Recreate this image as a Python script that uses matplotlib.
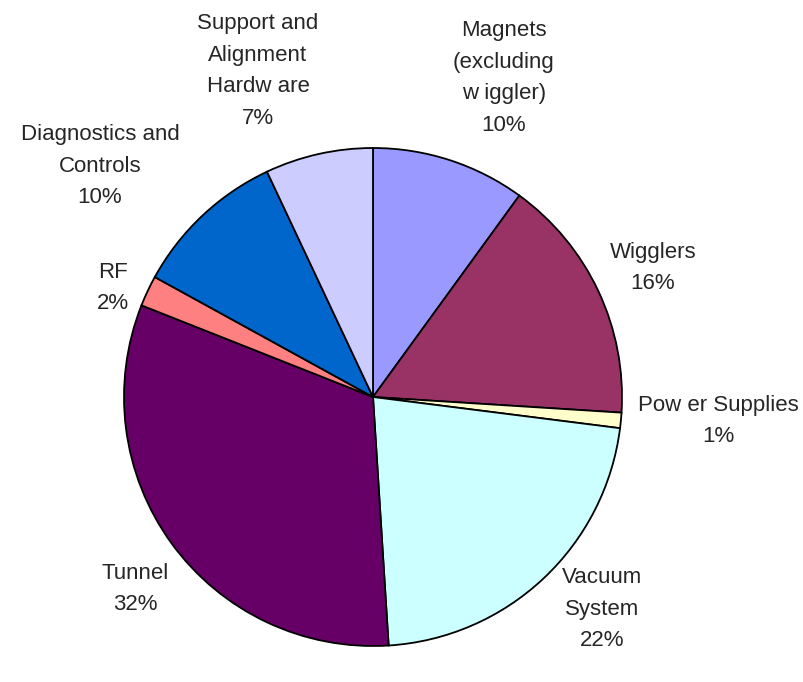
import matplotlib.pyplot as plt

# cost breakdown, clockwise from 12 o'clock
names = ['Magnets\n(excluding\nw iggler)', 'Wigglers', 'Pow er Supplies',
         'Vacuum\nSystem', 'Tunnel', 'RF', 'Diagnostics and\nControls',
         'Support and\nAlignment\nHardw are']
shares = [10, 16, 1, 22, 32, 2, 10, 7]
colors = ['#9999ff', '#993366', '#ffffcc', '#ccffff', '#660066',
          '#ff8080', '#0066cc', '#ccccff']

# label anchor points (figure pixels, y down)
label_xy = [(504, 78), (653, 268), (718, 421), (602, 609),
            (135, 589), (113, 288), (100, 166), (258, 71)]

plt.rcParams['font.family'] = ['Liberation Sans', 'DejaVu Sans']

W, H = 804, 682
fig = plt.figure(figsize=(W / 100, H / 100), dpi=100)
ax = fig.add_axes([0, 0, 1, 1])
ax.set_aspect('equal')
ax.axis('off')

ax.pie(shares, colors=colors, startangle=90, counterclock=False,
       center=(373, H - 397), radius=249,
       wedgeprops=dict(edgecolor='black', linewidth=1.3))
ax.set_xlim(0, W)
ax.set_ylim(0, H)

for name, val, (x, y) in zip(names, shares, label_xy):
    ax.text(x, H - y, f'{name}\n{val}%', ha='center', va='center',
            fontsize=16, color='#262626', linespacing=1.66)

fig.savefig('out.png', dpi=100)
